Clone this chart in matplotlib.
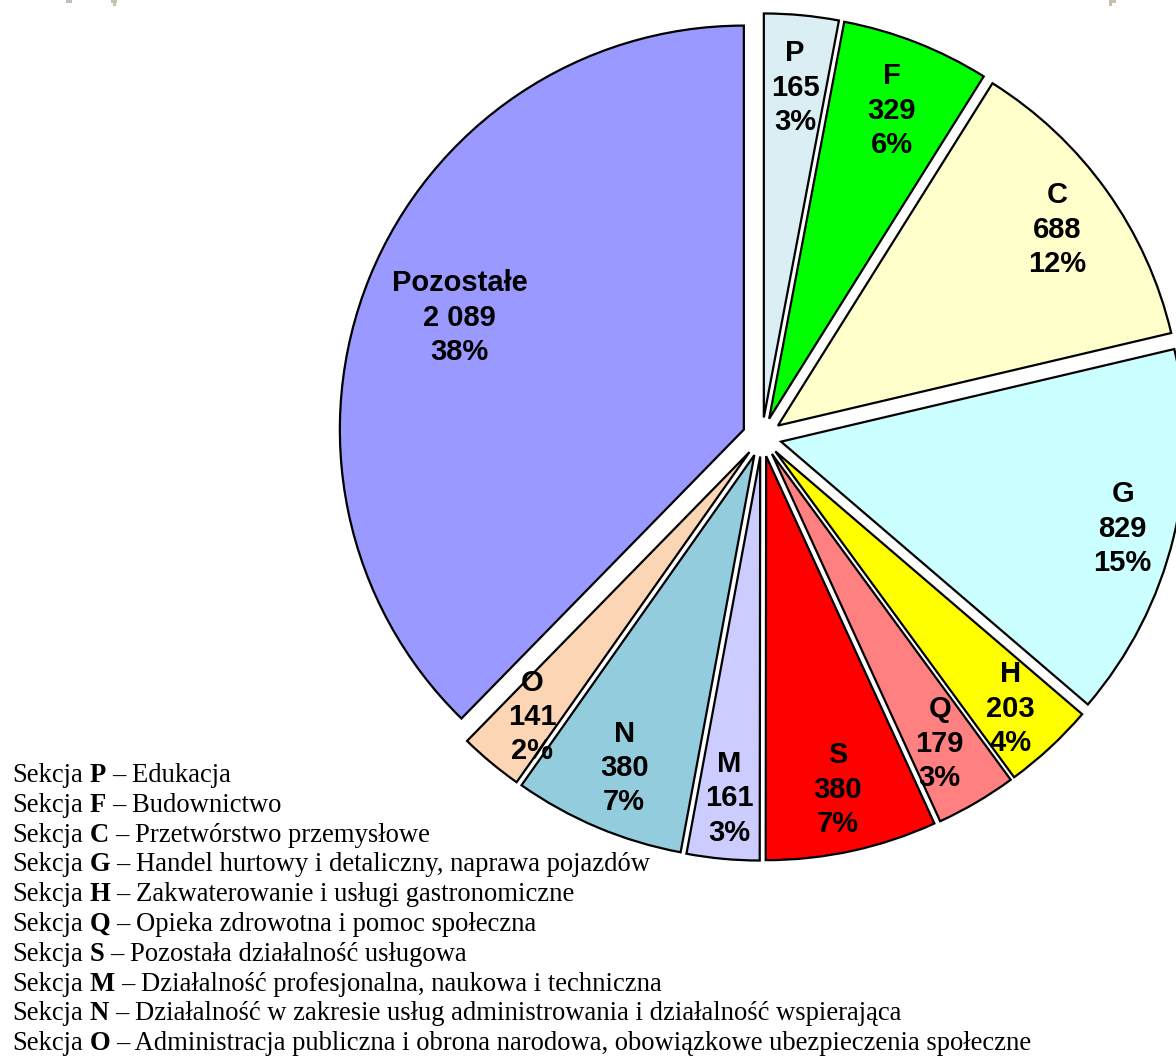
import matplotlib.pyplot as plt
from matplotlib.patches import Rectangle
import numpy as np

# Dane
codes = ["P", "F", "C", "G", "H", "Q", "S", "M", "N", "O", "Pozostałe"]
values = [165, 329, 688, 829, 203, 179, 380, 161, 380, 141, 2089]
pct_labels = ["3%", "6%", "12%", "15%", "4%", "3%", "7%", "3%", "7%", "2%", "38%"]
descriptions = [
    "Edukacja",
    "Budownictwo",
    "Przetwórstwo przemysłowe",
    "Handel hurtowy i detaliczny, naprawa pojazdów",
    "Zakwaterowanie i usługi gastronomiczne",
    "Opieka zdrowotna i pomoc społeczna",
    "Pozostała działalność usługowa",
    "Działalność profesjonalna, naukowa i techniczna",
    "Działalność w zakresie usług administrowania i działalność wspierająca",
    "Administracja publiczna i obrona narodowa, obowiązkowe ubezpieczenia społeczne",
]

colors = ["#DAEEF3", "#00FF00", "#FFFFCC", "#CCFFFF", "#FFFF00", "#FF8080",
          "#FF0000", "#CCCCFF", "#93CDDD", "#FCD5B5", "#9999FF"]
label_r = [0.83, 0.83, 0.85, 0.87, 0.855, 0.82, 0.835, 0.84, 0.83, 0.84, 0.76]

W, H = 1176, 1064
fig = plt.figure(figsize=(W / 100, H / 100), dpi=100)
ax = fig.add_axes([0, 0, 1, 1])

R = 404
cx, cy = 762, H - 437

# explode w pie() jest w jednostkach danych, nie ulamkiem promienia
wedges, _ = ax.pie(values, colors=colors, startangle=90, counterclock=False,
                   radius=R, center=(cx, cy), explode=[19.6] * len(values),
                   wedgeprops=dict(edgecolor="black", linewidth=1.6),
                   frame=True)
ax.set_xlim(0, W)
ax.set_ylim(0, H)
ax.set_aspect("equal")
ax.axis("off")

def fmt(v):
    return f"{v:,}".replace(",", " ")

# Etykiety na wycinkach
for w, code, v, p, d in zip(wedges, codes, values, pct_labels, label_r):
    ang = np.deg2rad((w.theta1 + w.theta2) / 2)
    x = w.center[0] + d * w.r * np.cos(ang)
    y = w.center[1] + d * w.r * np.sin(ang) - 4
    ax.text(x, y, f"{code}\n{fmt(v)}\n{p}", ha="center", va="center",
            fontsize=21, fontweight="bold", family="Liberation Sans",
            linespacing=1.29)

# Legenda tekstowa
fig.canvas.draw()
renderer = fig.canvas.get_renderer()
y0 = H - 782
step = 29.8
fs = 19.2
for i, (code, desc) in enumerate(zip(codes[:-1], descriptions)):
    y = y0 - i * step
    t1 = ax.text(12, y, "Sekcja", fontsize=fs, family="Liberation Serif",
                 va="baseline", ha="left")
    x = t1.get_window_extent(renderer).x1 + 7
    t2 = ax.text(x, y, code, fontsize=fs, family="Liberation Serif",
                 fontweight="bold", va="baseline", ha="left")
    x = t2.get_window_extent(renderer).x1 + 6
    ax.text(x, y, "– " + desc, fontsize=fs, family="Liberation Serif",
            va="baseline", ha="left")

# Drobne znaczniki w rogach
for xm in [66, 111, 1110]:
    fig.add_artist(Rectangle((xm / W, 1 - 3 / H), 6 / W, 3 / H,
                             transform=fig.transFigure, color="#C8BEB2", lw=0))
for xm in [113, 1109]:
    fig.add_artist(Rectangle((xm / W, 1 - 6 / H), 3 / W, 6 / H,
                             transform=fig.transFigure, color="#C8BEB2", lw=0))

fig.savefig("out.png", dpi=100)
